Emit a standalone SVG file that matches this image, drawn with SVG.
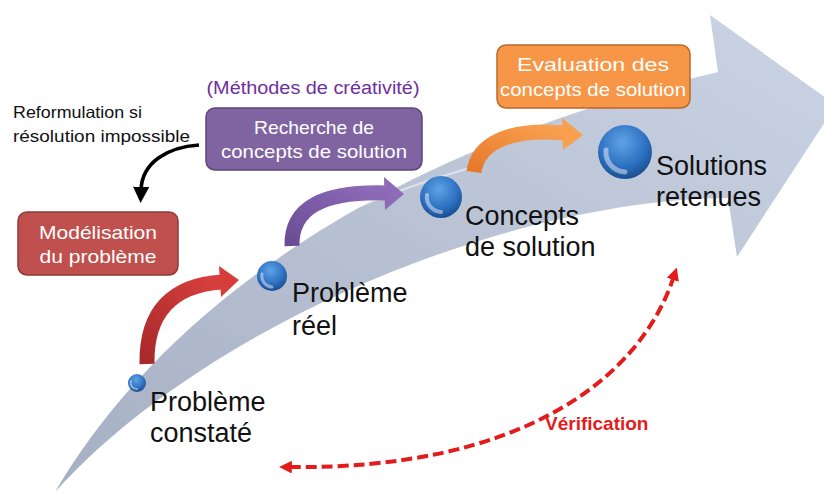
<svg xmlns="http://www.w3.org/2000/svg" width="824" height="493" viewBox="0 0 824 493">
<defs>
<linearGradient id="band" x1="0" y1="1" x2="1" y2="0">
<stop offset="0" stop-color="#a6b0c3"/>
<stop offset="1" stop-color="#cbd4e4"/>
</linearGradient>
<radialGradient id="ball" cx="0.45" cy="0.32" r="0.72">
<stop offset="0" stop-color="#5fa3e6"/>
<stop offset="0.6" stop-color="#2e72c2"/>
<stop offset="1" stop-color="#17498a"/>
</radialGradient>
<linearGradient id="redg" x1="0" y1="1" x2="1" y2="0">
<stop offset="0" stop-color="#a82a2a"/>
<stop offset="1" stop-color="#d9403d"/>
</linearGradient>
<linearGradient id="purg" x1="0" y1="1" x2="1" y2="0">
<stop offset="0" stop-color="#6b4c94"/>
<stop offset="1" stop-color="#8d6bb8"/>
</linearGradient>
<linearGradient id="orag" x1="0" y1="1" x2="1" y2="0">
<stop offset="0" stop-color="#e8782a"/>
<stop offset="1" stop-color="#f8a050"/>
</linearGradient>
<marker id="blk" viewBox="0 0 10 10" refX="2" refY="5" markerWidth="4.5" markerHeight="4.5" orient="auto" markerUnits="strokeWidth">
<path d="M0,0 L10,5 L0,10 z" fill="#000"/>
</marker>
<marker id="redm" viewBox="0 0 10 10" refX="3" refY="5" markerWidth="3.2" markerHeight="3.2" orient="auto-start-reverse" markerUnits="strokeWidth">
<path d="M0,0 L10,5 L0,10 z" fill="#e31b1b"/>
</marker>
<style>
.lbl{font-family:"Liberation Sans",Arial,sans-serif;font-size:27px;fill:#111}
.box{font-family:"Liberation Sans",Arial,sans-serif;font-size:19px;fill:#fff;text-anchor:middle}
.note{font-family:"Liberation Sans",Arial,sans-serif;font-size:16.5px;fill:#111}
.ball{fill:url(#ball)}
.hl{fill:none;stroke:#ffffff;stroke-opacity:0.45;stroke-linecap:round}
</style>
</defs>

<g id="big-arrow">
<path d="M55,492 C150,330 350,160 718,72 L710,15 L836,105 L737,257 L728,198 C500,200 200,330 55,492 Z" fill="url(#band)"/>
<path d="M300,232 C360,205 410,185 470,168" stroke="#ffffff" stroke-opacity="0.5" stroke-width="2" fill="none"/>
</g>

<g id="connectors">
<path id="c-reform" d="M199,145 C168,147 142,162 141,190" fill="none" stroke="#000" stroke-width="3.6" marker-end="url(#blk)"/>
<g id="c-red">
<path d="M147,364 C146,312 172,285 222,282" fill="none" stroke="url(#redg)" stroke-width="15"/>
<path d="M219,266 L239,280 L221,297 Z" fill="#d63e3b"/>
</g>
<g id="c-purple">
<path d="M292,246 C291,208 322,191 387,193" fill="none" stroke="url(#purg)" stroke-width="15"/>
<path d="M384,177 L404,194 L385,210 Z" fill="#8d6bb8"/>
</g>
<g id="c-orange">
<path d="M474,172 C478,142 512,128 565,133" fill="none" stroke="url(#orag)" stroke-width="15"/>
<path d="M562,118 L583,135 L563,150 Z" fill="#f8a050"/>
</g>
<path id="c-verif" d="M674,276 C640,380 520,470 288,467" fill="none" stroke="#e31b1b" stroke-width="4" stroke-dasharray="11,5" marker-start="url(#redm)" marker-end="url(#redm)"/>
<text x="545" y="430" font-family="Liberation Sans,Arial,sans-serif" font-size="19" font-weight="bold" fill="#e31b1b">Vérification</text>
</g>

<g id="n-constate">
<circle class="ball" cx="137" cy="383" r="9"/>
<path class="hl" d="M131,381 A6,6 0 0 0 137,389" stroke-width="2"/>
<text class="lbl" x="150" y="411">Problème</text>
<text class="lbl" x="150" y="442">constaté</text>
</g>

<g id="n-reel">
<circle class="ball" cx="272" cy="276" r="15"/>
<path class="hl" d="M262,274 A11,11 0 0 0 272,287" stroke-width="3"/>
<text class="lbl" x="292" y="302">Problème</text>
<text class="lbl" x="292" y="335">réel</text>
</g>

<g id="n-concepts">
<circle class="ball" cx="441" cy="197" r="21"/>
<path class="hl" d="M427,195 A15,15 0 0 0 441,212" stroke-width="4"/>
<text class="lbl" x="465" y="225">Concepts</text>
<text class="lbl" x="465" y="256">de solution</text>
</g>

<g id="n-solutions">
<circle class="ball" cx="625" cy="152" r="27"/>
<path class="hl" d="M606,150 A20,20 0 0 0 625,172" stroke-width="5"/>
<text class="lbl" x="656" y="175">Solutions</text>
<text class="lbl" x="656" y="206">retenues</text>
</g>

<g id="n-modelisation">
<rect x="18" y="212" width="160" height="63" rx="9" fill="#c0504d" stroke="#8e3a38" stroke-width="1.5"/>
<text class="box" x="98" y="239" textLength="118" lengthAdjust="spacingAndGlyphs">Modélisation</text>
<text class="box" x="98" y="263" textLength="117" lengthAdjust="spacingAndGlyphs">du problème</text>
</g>

<g id="n-recherche">
<text x="313" y="94" font-family="Liberation Sans,Arial,sans-serif" font-size="18" fill="#7030a0" text-anchor="middle" textLength="213" lengthAdjust="spacingAndGlyphs">(Méthodes de créativité)</text>
<rect x="206" y="108" width="216" height="62" rx="9" fill="#8064a2" stroke="#5c4679" stroke-width="1.5"/>
<text class="box" x="314" y="134" textLength="120" lengthAdjust="spacingAndGlyphs">Recherche de</text>
<text class="box" x="314" y="158" textLength="186" lengthAdjust="spacingAndGlyphs">concepts de solution</text>
</g>

<g id="n-evaluation">
<rect x="497" y="45" width="193" height="63" rx="9" fill="#f79646" stroke="#b86a2c" stroke-width="1.5"/>
<text class="box" x="593" y="71" textLength="152" lengthAdjust="spacingAndGlyphs">Evaluation des</text>
<text class="box" x="593" y="96" textLength="186" lengthAdjust="spacingAndGlyphs">concepts de solution</text>
</g>

<g id="n-reformulation">
<text class="note" x="13" y="118" textLength="129" lengthAdjust="spacingAndGlyphs">Reformulation si</text>
<text class="note" x="13" y="142" textLength="177" lengthAdjust="spacingAndGlyphs">résolution impossible</text>
</g>
</svg>
